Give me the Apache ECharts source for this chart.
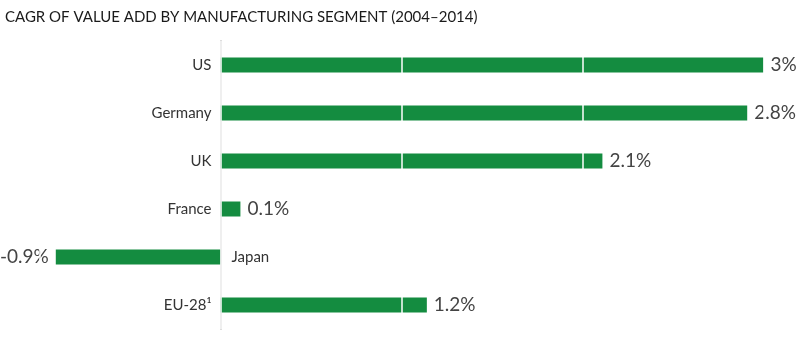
<!DOCTYPE html>
<html>
<head>
<meta charset="utf-8">
<script src="https://cdn.jsdelivr.net/npm/echarts@6/dist/echarts.min.js"></script>
<style>
  html, body { margin: 0; padding: 0; background: #fff; }
  #chart { width: 801px; height: 352px; }
</style>
</head>
<body>
<div id="chart"></div>
<script>
// CAGR of value add, 2004-2014
const categories = ['US', 'Germany', 'UK', 'France', 'Japan', 'EU-28¹'];
// bar lengths as drawn in the source (they don't quite match the printed labels)
const cagr = [3, 2.91, 2.11, 0.11, -0.91, 1.14];
const valueLabels = ['3%', '2.8%', '2.1%', '0.1%', '-0.9%', '1.2%'];
const titleText = 'CAGR OF VALUE ADD BY MANUFACTURING SEGMENT (2004–2014)';

const green = '#148c40';
const font = 'Lato, "Open Sans", sans-serif';

const gridLeft = 39.5, gridRight = 37.5;
const xMin = -1, xMax = 3;
// push the category axis over to x = 0 so labels follow it
const zeroOffset = -(801 - gridLeft - gridRight) * (0 - xMin) / (xMax - xMin);

// category labels: negative bars get their label on the right of the axis
const yData = categories.map((c, i) => {
  if (cagr[i] < 0) {
    return { value: c, textStyle: { align: 'left', padding: [0, 0, 0, 20] } };
  }
  return c;
});

const barData = cagr.map(v => ({
  value: v,
  label: { position: v < 0 ? 'left' : 'right' }
}));

const chart = echarts.init(document.getElementById('chart'));
chart.setOption({
  animation: false,
  title: {
    text: titleText,
    left: 0,
    top: 5,
    textStyle: { fontFamily: font, fontSize: 15, fontWeight: 'normal', color: '#1a1a1a' }
  },
  grid: {
    left: gridLeft, right: gridRight, top: 41, bottom: 23,
    containLabel: false, outerBoundsMode: 'none'
  },
  xAxis: {
    type: 'value',
    min: xMin,
    max: xMax,
    interval: 1,
    z: 5,
    axisLine: { show: false },
    axisTick: { show: false },
    axisLabel: { show: false },
    splitLine: { show: true, lineStyle: { color: '#fff', width: 1.5 } }
  },
  yAxis: {
    type: 'category',
    inverse: true,
    data: yData,
    offset: zeroOffset,
    axisLine: { show: true, onZero: false, lineStyle: { color: '#aaa', width: 1.5 } },
    axisTick: { show: false },
    axisLabel: { margin: 9, fontFamily: font, fontSize: 15, color: '#333' }
  },
  series: [{
    type: 'bar',
    data: barData,
    barWidth: 15,
    itemStyle: { color: green },
    label: {
      show: true,
      distance: 7,
      fontFamily: font,
      fontSize: 19,
      color: '#444',
      formatter: p => valueLabels[p.dataIndex]
    }
  }]
});
</script>
</body>
</html>
